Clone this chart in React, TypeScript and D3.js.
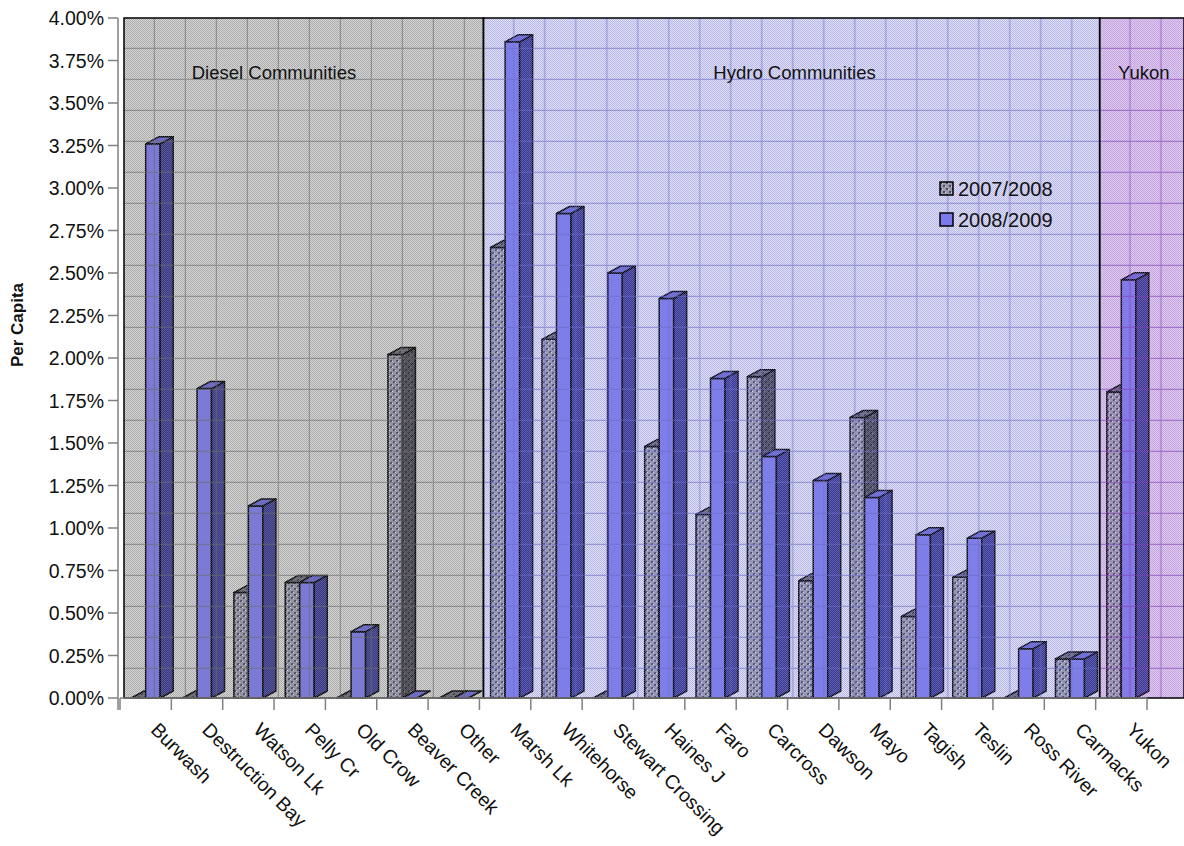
import React from "react";
import * as d3 from "d3";

const categories = [
  "Burwash", "Destruction Bay", "Watson Lk", "Pelly Cr", "Old Crow", "Beaver Creek", "Other",
  "Marsh Lk", "Whitehorse", "Stewart Crossing", "Haines J", "Faro", "Carcross", "Dawson",
  "Mayo", "Tagish", "Teslin", "Ross River", "Carmacks", "Yukon",
];
const values0708 = [0, 0, 0.62, 0.68, 0, 2.02, 0, 2.65, 2.11, 0, 1.48, 1.08, 1.89, 0.69, 1.65, 0.48, 0.71, 0, 0.23, 1.8];
const values0809 = [3.26, 1.82, 1.13, 0.68, 0.39, 0, 0, 3.86, 2.85, 2.5, 2.35, 1.88, 1.42, 1.28, 1.18, 0.96, 0.94, 0.29, 0.23, 2.46];
const seriesNames = ["2007/2008", "2008/2009"];
const yTicks = [0, 0.25, 0.5, 0.75, 1, 1.25, 1.5, 1.75, 2, 2.25, 2.5, 2.75, 3, 3.25, 3.5, 3.75, 4];

const regionNames = ["Diesel Communities", "Hydro Communities", "Yukon"];
const regionFirst = ["Burwash", "Marsh Lk", "Yukon"];
const regionLast = ["Other", "Carmacks", "Yukon"];

const W = 1184;
const H = 846;
const FONT = "'Liberation Sans', Arial, sans-serif";

// region looks: base, dot, grid line
const regionStyle = [
  { base: "#d4d4d4", dot: "#7c7c7c", grid: "#6a6a6a" },
  { base: "#dedef6", dot: "#8c8cd8", grid: "#6a6ac4" },
  { base: "#dec8ee", dot: "#a47ed0", grid: "#7e40b4" },
];

export default function App() {
  const x = d3.scaleBand<string>().domain(categories).range([120, 1147]);
  const y = d3.scaleLinear().domain([0, 4]).range([698, 18]);
  const bw = x.bandwidth();
  const wallDx = 4;
  const top = y(4);
  const floor = y(0);
  const barW = 14.5;
  const dx = 13;
  const dy = -7;

  const regions = regionNames.map((name, i) => {
    const x0 = (x(regionFirst[i]) as number) + wallDx;
    const x1 = i === regionNames.length - 1 ? W : (x(regionLast[i]) as number) + bw + wallDx;
    return { name, x0, x1, style: regionStyle[i] };
  });

  const bars: JSX.Element[] = [];
  categories.forEach((c, i) => {
    const cx = (x(c) as number) + bw / 2;
    [values0708[i], values0809[i]].forEach((v, s) => {
      const x0 = cx - barW + s * barW;
      const x1 = x0 + barW;
      const t = y(v);
      const front = s === 0 ? "url(#p0708)" : "#7a7aee";
      const side = s === 0 ? "url(#p0708side)" : "#3a3a92";
      const topC = s === 0 ? "url(#p0708top)" : "#6868d6";
      bars.push(
        <g key={c + s} stroke="#000" strokeWidth={1.5} strokeLinejoin="round">
          <rect x={x0} y={t} width={barW} height={floor - t} fill={front} />
          <polygon
            points={`${x1},${t} ${x1 + dx},${t + dy} ${x1 + dx},${floor + dy} ${x1},${floor}`}
            fill={side}
          />
          <polygon
            points={`${x0},${t} ${x0 + dx},${t + dy} ${x1 + dx},${t + dy} ${x1},${t}`}
            fill={topC}
          />
        </g>
      );
    });
  });

  return (
    <svg width={W} height={H} style={{ position: "absolute", left: 0, top: 0 }} fontFamily={FONT}>
      <defs>
        {regions.map((r, i) => (
          <React.Fragment key={i}>
            <pattern id={`dots${i}`} width={2} height={2} patternUnits="userSpaceOnUse">
              <rect x={0} y={0} width={1} height={1} fill={r.style.dot} />
              <rect x={1} y={1} width={1} height={1} fill={r.style.dot} />
            </pattern>
            <pattern id={`grid${i}`} x={r.x0} y={top} width={31} height={31} patternUnits="userSpaceOnUse">
              <line x1={30.5} x2={30.5} y1={0} y2={31} stroke={r.style.grid} strokeWidth={1.5} />
              <line x1={0} x2={31} y1={30.5} y2={30.5} stroke={r.style.grid} strokeWidth={1.5} />
            </pattern>
            <clipPath id={`clip${i}`}>
              <rect x={r.x0} y={top} width={r.x1 - r.x0} height={floor - top} />
            </clipPath>
          </React.Fragment>
        ))}
        <pattern id="p0708" width={6} height={6} patternUnits="userSpaceOnUse">
          <rect width={6} height={6} fill="#9a9aae" />
          <rect x={0} y={0} width={2} height={2} fill="#4c4c5e" />
          <rect x={3} y={3} width={2} height={2} fill="#4c4c5e" />
          <rect x={2} y={1} width={1} height={1} fill="#d8d8e4" />
          <rect x={5} y={4} width={1} height={1} fill="#d8d8e4" />
        </pattern>
        <pattern id="p0708side" width={6} height={6} patternUnits="userSpaceOnUse">
          <rect width={6} height={6} fill="#4a4a56" />
          <rect x={0} y={0} width={2} height={2} fill="#2a2a34" />
          <rect x={3} y={3} width={2} height={2} fill="#2a2a34" />
          <rect x={2} y={1} width={1} height={1} fill="#7a7a88" />
        </pattern>
        <pattern id="p0708top" width={6} height={6} patternUnits="userSpaceOnUse">
          <rect width={6} height={6} fill="#6a6a7a" />
          <rect x={0} y={0} width={2} height={2} fill="#3c3c4a" />
          <rect x={3} y={3} width={2} height={2} fill="#3c3c4a" />
        </pattern>
      </defs>

      {/* wall regions */}
      {regions.map((r, i) => (
        <rect key={"base" + i} x={r.x0} y={top} width={r.x1 - r.x0} height={floor - top} fill={r.style.base} />
      ))}

      {/* bars */}
      <g>{bars}</g>

      {/* translucent wall texture over everything */}
      {regions.map((r, i) => (
        <g key={"ov" + i} clipPath={`url(#clip${i})`}>
          <rect x={r.x0} y={top} width={r.x1 - r.x0} height={floor - top} fill={`url(#dots${i})`} opacity={0.45} />
          <rect x={r.x0} y={top} width={r.x1 - r.x0} height={floor - top} fill={`url(#grid${i})`} opacity={0.55} />
        </g>
      ))}

      {/* region borders */}
      {regions.map((r, i) => (
        <rect
          key={"bd" + i}
          x={r.x0}
          y={top}
          width={r.x1 - r.x0}
          height={floor - top}
          fill="none"
          stroke="#000"
          strokeWidth={1.5}
        />
      ))}

      {/* region labels */}
      {regions.map((r, i) => (
        <text
          key={"rl" + i}
          x={i === 0 ? r.x0 + 150 : (r.x0 + r.x1) / 2 + (i === 2 ? 2 : 3)}
          y={79}
          textAnchor="middle"
          fontSize={18.5}
          fill="#111"
        >
          {r.name}
        </text>
      ))}

      {/* y axis */}
      <line x1={118} x2={118} y1={top} y2={floor + 12} stroke="#808080" strokeWidth={1.5} />
      {yTicks.map((t) => (
        <g key={"yt" + t}>
          <line x1={108} x2={118} y1={y(t)} y2={y(t)} stroke="#808080" strokeWidth={1.5} />
          <text x={104} y={y(t)} dy="0.36em" textAnchor="end" fontSize={19.5} fill="#111">
            {d3.format(".2f")(t) + "%"}
          </text>
        </g>
      ))}
      <text
        transform={`translate(23,325) rotate(-90)`}
        textAnchor="middle"
        fontWeight="bold"
        fontSize={17}
        fill="#111"
      >
        Per Capita
      </text>

      {/* x axis */}
      <line x1={120} x2={1147} y1={floor} y2={floor} stroke="#808080" strokeWidth={1.5} />
      {categories.concat([""]).map((c, i) => {
        const tx = 120 + i * bw;
        return <line key={"xt" + i} x1={tx} x2={tx} y1={floor} y2={floor + 12} stroke="#808080" strokeWidth={1.5} />;
      })}
      {categories.map((c) => {
        const cx = (x(c) as number) + bw / 2;
        return (
          <text key={"xl" + c} transform={`translate(${cx + 4},${731}) rotate(45)`} fontSize={19.5} fill="#111">
            {c}
          </text>
        );
      })}

      {/* legend */}
      {seriesNames.map((s, i) => (
        <g key={"lg" + s} transform={`translate(940,${182 + i * 31})`}>
          <rect
            width={13}
            height={13}
            fill={i === 0 ? "url(#p0708)" : "#7a7aee"}
            stroke="#000"
            strokeWidth={1.5}
          />
          <text x={18} y={13.5} fontSize={20} fill="#111">
            {s}
          </text>
        </g>
      ))}
    </svg>
  );
}
